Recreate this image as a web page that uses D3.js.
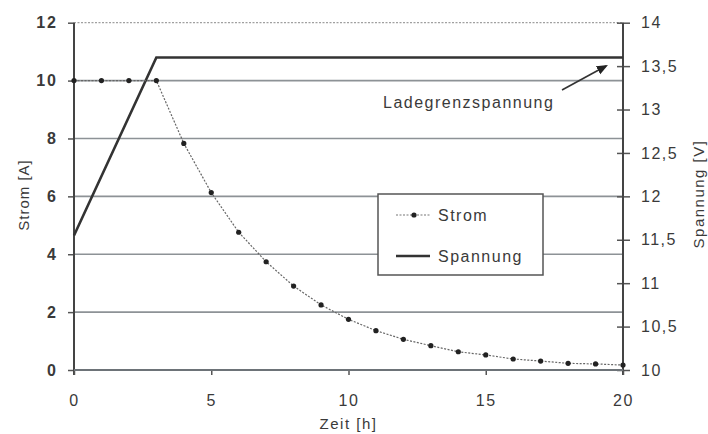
<!DOCTYPE html>
<html>
<head>
<meta charset="utf-8">
<script src="https://cdn.jsdelivr.net/npm/d3@7"></script>
<style>
  body { margin: 0; background: #fff; }
  text { font-family: "Liberation Sans", Arial, sans-serif; fill: #3a3a3a; }
</style>
</head>
<body>
<div id="chart"></div>
<script>
// hours, charging current [A] and voltage [V]
var stromZeit = [0, 1, 2, 3, 4, 5, 6, 7, 8, 9, 10, 11, 12, 13, 14, 15, 16, 17, 18, 19, 20];
var stromWerte = [10, 10, 10, 10, 7.83, 6.13, 4.76, 3.74, 2.9, 2.25, 1.75, 1.36, 1.06, 0.84, 0.63, 0.52, 0.38, 0.31, 0.23, 0.21, 0.17];
var spannZeit = [0, 3, 20];
var spannWerte = [11.55, 13.6, 13.6];

var xTicks = [0, 5, 10, 15, 20];
var yTicksA = [0, 2, 4, 6, 8, 10, 12];
var yTicksV = [10, 10.5, 11, 11.5, 12, 12.5, 13, 13.5, 14];

var W = 708, H = 434;
var pLeft = 74, pRight = 623, pTop = 22.7, pBottom = 370;

var svg = d3.select("#chart").append("svg")
  .attr("width", W)
  .attr("height", H);

var x = d3.scaleLinear().domain([0, 20]).range([pLeft, pRight]);
var yA = d3.scaleLinear().domain([0, 12]).range([pBottom, pTop]);
var yV = d3.scaleLinear().domain([10, 14]).range([pBottom, pTop]);

// horizontal grid lines
svg.append("g").selectAll("line")
  .data(yTicksA.filter(function(d) { return d > 0; }))
  .join("line")
  .attr("x1", pLeft).attr("x2", pRight)
  .attr("y1", function(d) { return yA(d); })
  .attr("y2", function(d) { return yA(d); })
  .attr("stroke", function(d) { return d == 12 ? "#a0a0a0" : "#8d9296"; })
  .attr("stroke-width", function(d) { return d == 12 ? 1.3 : 1.6; })
  .attr("stroke-dasharray", function(d) { return d == 12 ? "2,1.5" : null; });

// left axis
var axL = svg.append("g")
  .attr("transform", "translate(" + pLeft + ",0)")
  .call(d3.axisLeft(yA).tickValues(yTicksA).tickSize(6).tickSizeOuter(0).tickPadding(10));
axL.select(".domain").remove();
axL.append("line").attr("x1", 0).attr("x2", 0).attr("y1", pTop).attr("y2", pBottom + 5)
  .attr("stroke", "#444").attr("stroke-width", 2);
axL.selectAll(".tick line").attr("stroke", "#555").attr("stroke-width", 1.5);
axL.selectAll("text").style("font-size", "16px").style("font-weight", "bold")
  .style("letter-spacing", "2px").attr("fill", "#444");

// right axis (ticks cross the line)
var axR = svg.append("g")
  .attr("transform", "translate(" + pRight + ",0)")
  .call(d3.axisRight(yV).tickValues(yTicksV).tickSize(7).tickSizeOuter(0).tickPadding(11)
    .tickFormat(function(d) { return String(d).replace(".", ","); }));
axR.select(".domain").remove();
axR.append("line").attr("x1", 0).attr("x2", 0).attr("y1", pTop).attr("y2", pBottom + 5)
  .attr("stroke", "#444").attr("stroke-width", 2);
axR.selectAll(".tick line").attr("x1", -6).attr("stroke", "#555").attr("stroke-width", 1.5);
axR.selectAll("text").style("font-size", "16px").style("letter-spacing", "1.5px").attr("fill", "#3a3a3a");

// bottom axis
var axB = svg.append("g")
  .attr("transform", "translate(0," + pBottom + ")")
  .call(d3.axisBottom(x).tickValues(xTicks).tickSize(5).tickSizeOuter(0).tickPadding(20));
axB.select(".domain").remove();
axB.append("line").attr("x1", pLeft).attr("x2", pRight).attr("y1", 0).attr("y2", 0)
  .attr("stroke", "#6d7378").attr("stroke-width", 2);
axB.selectAll(".tick line").attr("stroke", "#555").attr("stroke-width", 1.5);
axB.selectAll("text").style("font-size", "16px").style("letter-spacing", "1.5px").attr("fill", "#3a3a3a");

// axis titles
svg.append("text")
  .attr("transform", "translate(29,195) rotate(-90)")
  .attr("text-anchor", "middle")
  .style("font-size", "15px").style("letter-spacing", "1px")
  .text("Strom [A]");
svg.append("text")
  .attr("transform", "translate(704,194) rotate(-90)")
  .attr("text-anchor", "middle")
  .style("font-size", "15px").style("letter-spacing", "1.5px")
  .text("Spannung [V]");
svg.append("text")
  .attr("x", x(10)).attr("y", 429)
  .attr("text-anchor", "middle")
  .style("font-size", "15px").style("letter-spacing", "1.5px")
  .text("Zeit [h]");

// Spannung line
var lineV = d3.line()
  .x(function(d, i) { return x(spannZeit[i]); })
  .y(function(d) { return yV(d); });
svg.append("path")
  .datum(spannWerte)
  .attr("fill", "none")
  .attr("stroke", "#333")
  .attr("stroke-width", 2.6)
  .attr("d", lineV);

// Strom line with markers
var lineA = d3.line()
  .x(function(d, i) { return x(stromZeit[i]); })
  .y(function(d) { return yA(d); });
svg.append("path")
  .datum(stromWerte)
  .attr("fill", "none")
  .attr("stroke", "#666")
  .attr("stroke-width", 1.2)
  .attr("stroke-dasharray", "2,1.5")
  .attr("d", lineA);
svg.append("g").selectAll("circle")
  .data(stromWerte)
  .join("circle")
  .attr("cx", function(d, i) { return x(stromZeit[i]); })
  .attr("cy", function(d) { return yA(d); })
  .attr("r", 2.6)
  .attr("fill", "#222");

// legend
var lg = svg.append("g");
lg.append("rect")
  .attr("x", 378).attr("y", 194).attr("width", 165).attr("height", 81)
  .attr("fill", "#fff").attr("stroke", "#555").attr("stroke-width", 1.5);
lg.append("line").attr("x1", 396).attr("x2", 430).attr("y1", 215).attr("y2", 215)
  .attr("stroke", "#777").attr("stroke-width", 1.2).attr("stroke-dasharray", "2,1.5");
lg.append("circle").attr("cx", 414).attr("cy", 215).attr("r", 2.6).attr("fill", "#222");
lg.append("text").attr("x", 438).attr("y", 221).style("font-size", "16px")
  .style("letter-spacing", "1.5px").text("Strom");
lg.append("line").attr("x1", 396).attr("x2", 430).attr("y1", 256).attr("y2", 256)
  .attr("stroke", "#333").attr("stroke-width", 2.6);
lg.append("text").attr("x", 438).attr("y", 262).style("font-size", "16px")
  .style("letter-spacing", "1.5px").text("Spannung");

// annotation
svg.append("defs").append("marker")
  .attr("id", "pfeil")
  .attr("viewBox", "0 -5 10 10")
  .attr("refX", 8).attr("refY", 0)
  .attr("orient", "auto")
  .attr("markerWidth", 7).attr("markerHeight", 7)
  .append("path")
  .attr("d", "M0,-4L10,0L0,4Z")
  .attr("fill", "#222");
svg.append("line")
  .attr("x1", 562).attr("y1", 90).attr("x2", 606).attr("y2", 66)
  .attr("stroke", "#333").attr("stroke-width", 1.6)
  .attr("marker-end", "url(#pfeil)");
svg.append("text")
  .attr("x", 383).attr("y", 108)
  .style("font-size", "16px").style("letter-spacing", "1.5px")
  .text("Ladegrenzspannung");
</script>
</body>
</html>
